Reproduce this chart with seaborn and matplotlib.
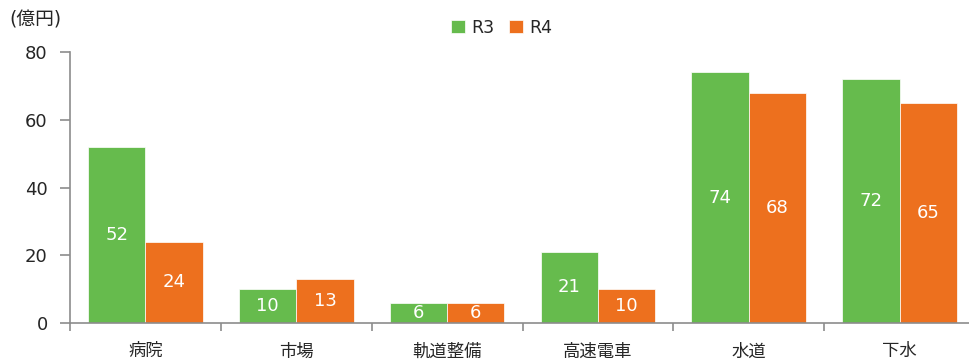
import pandas as pd
import matplotlib
matplotlib.use('Agg')
import matplotlib.pyplot as plt
import seaborn as sns

# data (億円)
categories = ['病院', '市場', '軌道整備', '高速電車', '水道', '下水']
r3 = [52, 10, 6, 21, 74, 72]
r4 = [24, 13, 6, 10, 68, 65]
series = ['R3', 'R4']
colors = ['#66BB4D', '#ED701E']

df = pd.DataFrame({
    'cat': categories * 2,
    'val': r3 + r4,
    'year': ['R3'] * len(r3) + ['R4'] * len(r4),
})

sns.set_style('white')
plt.rcParams['font.family'] = ['DejaVu Sans', 'Noto Sans CJK JP']

fig = plt.figure(figsize=(9.7, 3.64), dpi=100)
ax = fig.add_axes([0.0722, 0.1126, 0.933, 0.7445])

sns.barplot(data=df, x='cat', y='val', hue='year', order=categories,
            hue_order=series, palette=colors, width=0.76, saturation=1,
            edgecolor='white', linewidth=0.5, ax=ax)

# value labels in the middle of each bar
for cont in ax.containers:
    labels = [f'{int(b.get_height())}' for b in cont]
    ax.bar_label(cont, labels=labels, label_type='center', color='white',
                 fontsize=13)

ax.set_xlim(-0.5, 5.5)
ax.set_ylim(0, 80)
ax.set_yticks([0, 20, 40, 60, 80])
ax.set_xlabel('')
ax.set_ylabel('')

for s in ['top', 'right']:
    ax.spines[s].set_visible(False)
for s in ['left', 'bottom']:
    ax.spines[s].set_color('#8c8c8c')
    ax.spines[s].set_linewidth(1.2)

ax.set_xticks([i + 0.5 for i in range(-1, 6)], minor=True)
ax.tick_params(axis='x', which='major', bottom=False, length=0, pad=14,
               labelsize=12.5)
ax.tick_params(axis='x', which='minor', bottom=True, length=6,
               color='#8c8c8c', width=1.2, direction='out')
ax.tick_params(axis='y', left=True, length=7, color='#8c8c8c', width=1.2,
               pad=9, labelsize=13)

ax.legend(loc='center', bbox_to_anchor=(0.477, 1.09), ncol=2,
          frameon=False, handlelength=0.8, handleheight=0.8,
          handletextpad=0.4, columnspacing=0.8, fontsize=12.5)

fig.text(0.01, 0.92, '(億円)', fontsize=13.5, ha='left', va='bottom')

fig.savefig('out.png', dpi=100)
